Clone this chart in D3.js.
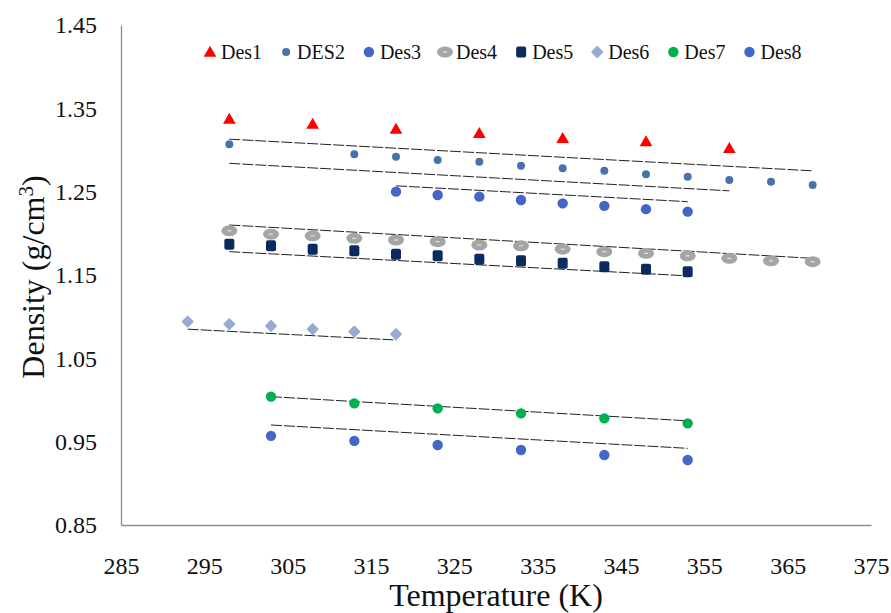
<!DOCTYPE html>
<html>
<head>
<meta charset="utf-8">
<script src="https://cdn.jsdelivr.net/npm/d3@7"></script>
<style>
  body { margin: 0; background: #fff; }
  svg { display: block; font-family: 'Liberation Serif', 'Times New Roman', serif; }
</style>
</head>
<body>
<div id="chart"></div>
<script>
// DATA ------------------------
const xTicks = [285, 295, 305, 315, 325, 335, 345, 355, 365, 375];
const yTicks = [0.85, 0.95, 1.05, 1.15, 1.25, 1.35, 1.45];

const seriesNames = ['Des1', 'DES2', 'Des3', 'Des4', 'Des5', 'Des6', 'Des7', 'Des8'];

const tempDes1 = [298, 308, 318, 328, 338, 348, 358];
const densDes1 = [1.337, 1.331, 1.325, 1.320, 1.314, 1.310, 1.302];

const tempDes2 = [298, 313, 318, 323, 328, 333, 338, 343, 348, 353, 358, 363, 368];
const densDes2 = [1.307, 1.295, 1.292, 1.288, 1.286, 1.281, 1.278, 1.275, 1.271, 1.268, 1.264, 1.262, 1.258];

const tempDes3 = [318, 323, 328, 333, 338, 343, 348, 353];
const densDes3 = [1.250, 1.246, 1.244, 1.240, 1.236, 1.233, 1.229, 1.226];

const tempDes4 = [298, 303, 308, 313, 318, 323, 328, 333, 338, 343, 348, 353, 358, 363, 368];
const densDes4 = [1.203, 1.199, 1.197, 1.194, 1.192, 1.190, 1.186, 1.185, 1.181, 1.178, 1.176, 1.173, 1.170, 1.167, 1.166];

const tempDes5 = [298, 303, 308, 313, 318, 323, 328, 333, 338, 343, 348, 353];
const densDes5 = [1.187, 1.185, 1.181, 1.179, 1.175, 1.173, 1.169, 1.167, 1.164, 1.160, 1.157, 1.154];

const tempDes6 = [293, 298, 303, 308, 313, 318];
const densDes6 = [1.094, 1.091, 1.089, 1.085, 1.082, 1.079];

const tempDes7 = [303, 313, 323, 333, 343, 353];
const densDes7 = [1.004, 0.996, 0.990, 0.984, 0.978, 0.972];

const tempDes8 = [303, 313, 323, 333, 343, 353];
const densDes8 = [0.957, 0.951, 0.946, 0.940, 0.934, 0.928];

// trendline end points [temperature, density]
const trendLines = [
  [[298, 1.313], [368, 1.275]],
  [[298, 1.284], [358, 1.251]],
  [[318, 1.257], [353, 1.238]],
  [[298, 1.210], [368, 1.170]],
  [[298, 1.178], [353, 1.149]],
  [[293, 1.085], [318, 1.072]],
  [[303, 1.004], [353, 0.975]],
  [[303, 0.970], [353, 0.942]]
];

// CHART -----------------------
const w = 891;
const h = 613;

const series = [
  { name: seriesNames[0], t: tempDes1, d: densDes1, shape: 'triangle', color: '#ff0000' },
  { name: seriesNames[1], t: tempDes2, d: densDes2, shape: 'smallcircle', color: '#4673aa' },
  { name: seriesNames[2], t: tempDes3, d: densDes3, shape: 'circle', color: '#4465c8' },
  { name: seriesNames[3], t: tempDes4, d: densDes4, shape: 'ellipse', color: '#a5a5a5' },
  { name: seriesNames[4], t: tempDes5, d: densDes5, shape: 'square', color: '#0b2a5e' },
  { name: seriesNames[5], t: tempDes6, d: densDes6, shape: 'diamond', color: '#97aad3' },
  { name: seriesNames[6], t: tempDes7, d: densDes7, shape: 'circle', color: '#00b050' },
  { name: seriesNames[7], t: tempDes8, d: densDes8, shape: 'circle', color: '#4466c8' }
];

const svg = d3.select('#chart')
  .append('svg')
  .attr('width', w)
  .attr('height', h);

const xScale = d3.scaleLinear().domain([285, 375]).range([121, 871]);
const yScale = d3.scaleLinear().domain([0.85, 1.45]).range([525, 25]);

// AXES ------------------------
const gX = svg.append('g').attr('transform', `translate(0, ${yScale(0.85)})`);
gX.call(d3.axisBottom(xScale).tickValues(xTicks).tickSize(0).tickPadding(0).tickFormat(d3.format('d')));
gX.attr('font-family', null);
gX.select('.domain').attr('stroke', '#8c8c8c').attr('stroke-width', 1.3);
gX.selectAll('text')
  .attr('y', 0)
  .attr('dy', 0)
  .attr('transform', 'translate(0, 49)')
  .style('font-size', '24px')
  .style('font-family', "'Liberation Serif', serif")
  .attr('fill', '#111');

const gY = svg.append('g').attr('transform', `translate(${xScale(285)}, 0)`);
gY.call(d3.axisLeft(yScale).tickValues(yTicks).tickSize(0).tickPadding(24).tickFormat(d3.format('.2f')));
gY.attr('font-family', null);
gY.select('.domain').attr('stroke', '#8c8c8c').attr('stroke-width', 1.3);
gY.selectAll('text')
  .attr('dy', '0.32em')
  .style('font-size', '24px')
  .style('font-family', "'Liberation Serif', serif")
  .attr('fill', '#111');

// TRENDLINES ------------------
const line = d3.line().x((p) => xScale(p[0])).y((p) => yScale(p[1]));
svg.append('g')
  .selectAll('path')
  .data(trendLines)
  .enter()
  .append('path')
  .attr('d', line)
  .attr('fill', 'none')
  .attr('stroke', '#222')
  .attr('stroke-width', 1)
  .attr('stroke-dasharray', '11,2');

// MARKERS ---------------------
function drawMarker(g, shape, color) {
  if (shape === 'ellipse') {
    g.append('ellipse').attr('rx', 8).attr('ry', 5.5).attr('fill', color);
    g.append('line').attr('x1', -2).attr('x2', 2).attr('stroke', '#eee').attr('stroke-width', 1);
    return;
  }
  if (shape === 'square') {
    g.append('rect').attr('x', -5).attr('y', -5.5).attr('width', 10).attr('height', 11)
      .attr('rx', 2).attr('fill', color);
    return;
  }
  if (shape === 'diamond') {
    g.append('rect').attr('x', -4.5).attr('y', -4.5).attr('width', 9).attr('height', 9)
      .attr('rx', 1).attr('transform', 'rotate(45)').attr('fill', color);
    return;
  }
  const types = {
    triangle: [d3.symbolTriangle, 70],
    smallcircle: [d3.symbolCircle, 50],
    circle: [d3.symbolCircle, 85]
  };
  const [type, size] = types[shape];
  g.append('path')
    .attr('d', d3.symbol().type(type).size(size)())
    .attr('transform', shape === 'triangle' ? 'translate(0,1)' : null)
    .attr('fill', color);
}

series.forEach((s) => {
  const pts = s.t.map((t, i) => ({ t: t, d: s.d[i] }));
  svg.append('g')
    .selectAll('g')
    .data(pts)
    .enter()
    .append('g')
    .attr('transform', (p) => `translate(${xScale(p.t)}, ${yScale(p.d)})`)
    .each(function () { drawMarker(d3.select(this), s.shape, s.color); });
});

// LEGEND ----------------------
const legend = svg.append('g').attr('transform', 'translate(0, 52)');
let lx = 210;
series.forEach((s) => {
  const item = legend.append('g');
  const m = item.append('g').attr('transform', `translate(${lx}, 0)`);
  drawMarker(m, s.shape, s.color);
  const txt = item.append('text')
    .attr('x', lx + 11)
    .attr('y', 6.5)
    .style('font-size', '20px')
    .attr('fill', '#111')
    .text(s.name);
  lx += 11 + txt.node().getComputedTextLength() + 24;
});

// AXIS LABELS -----------------
svg.append('text')
  .attr('x', (xScale(285) + xScale(375)) / 2)
  .attr('y', 606)
  .style('text-anchor', 'middle')
  .style('font-size', '32px')
  .attr('fill', '#111')
  .text('Temperature (K)');

const yLabel = svg.append('text')
  .attr('transform', 'translate(44, 277) rotate(-90)')
  .style('text-anchor', 'middle')
  .style('font-size', '32px')
  .attr('fill', '#111');
yLabel.append('tspan').text('Density (g/cm');
yLabel.append('tspan').attr('dy', -11).style('font-size', '21px').text('3');
yLabel.append('tspan').attr('dy', 11).text(')');
</script>
</body>
</html>
